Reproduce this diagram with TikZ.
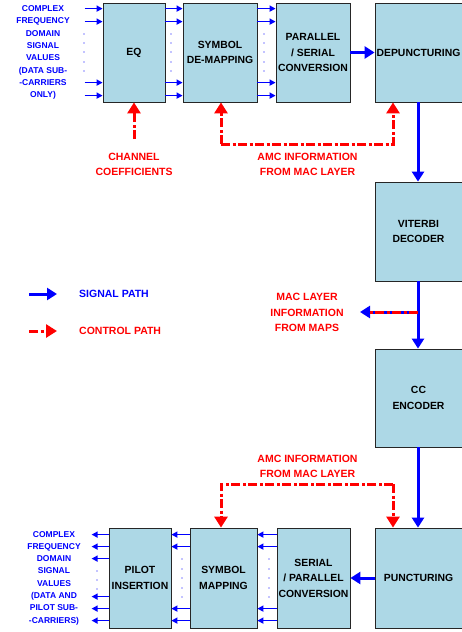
\documentclass[tikz,border=0pt]{standalone}
\usepackage{fontspec}
\setmainfont{Liberation Sans}
\usetikzlibrary{arrows.meta,calc}
\definecolor{boxblue}{RGB}{173,216,230}
\begin{document}
\begin{tikzpicture}[x=1pt,y=-1pt,
  blk/.style={draw=black!85, line width=0.8pt, fill=boxblue, align=center, inner sep=0pt,
    font=\bfseries\fontsize{10.4}{15.5}\selectfont},
  sig/.style={draw=blue, line width=1.5pt, -{Triangle[length=6pt,width=6pt]}},
  bigsig/.style={draw=blue, line width=3pt, -{Triangle[length=10pt,width=12pt]}},
  ctlpat/.style={draw=red, line width=3pt, dash pattern=on 9pt off 2.5pt on 3pt off 2.5pt},
  ctl/.style={ctlpat, -{Triangle[length=11pt,width=13pt]}},
  redlbl/.style={text=red, align=center, inner sep=0pt, font=\bfseries\fontsize{10.5}{15}\selectfont},
  bluelbl/.style={text=blue, align=center, inner sep=0pt, font=\bfseries\fontsize{8.5}{12.3}\selectfont},
  leglbl/.style={anchor=west, inner sep=0pt, font=\bfseries\fontsize{10.5}{12}\selectfont},
  dot/.style={fill=blue}
]
\useasboundingbox (0,0) rectangle (461,632);

% ---- top row ----
\node[blk, minimum width=62pt, minimum height=99pt] (eq) at (134,52.5) {EQ};
\node[blk, minimum width=74pt, minimum height=99pt] (sdm) at (220,52.5) {SYMBOL\\DE-MAPPING};
\node[blk, minimum width=74pt, minimum height=99pt] (ps) at (313,52.5) {PARALLEL\\/ SERIAL\\CONVERSION};
\node[blk, minimum width=87pt, minimum height=99pt] (dep) at (418.5,52.5) {DEPUNCTURING};
% ---- right column ----
\node[blk, minimum width=87pt, minimum height=99pt] (vit) at (418.5,231.5) {VITERBI\\DECODER};
\node[blk, minimum width=87pt, minimum height=98pt] (cc) at (418.5,398) {CC\\ENCODER};
\node[blk, minimum width=87pt, minimum height=100pt] (pun) at (418.5,578) {PUNCTURING};
% ---- bottom row ----
\node[blk, minimum width=73pt, minimum height=100pt] (sp) at (313.5,578) {SERIAL\\/ PARALLEL\\CONVERSION};
\node[blk, minimum width=67pt, minimum height=100pt] (sm) at (223.5,578) {SYMBOL\\MAPPING};
\node[blk, minimum width=62pt, minimum height=100pt] (pil) at (140,578) {PILOT\\INSERTION};

% ---- labels ----
\node[bluelbl] (inlbl) at (43,52.5) {COMPLEX\\FREQUENCY\\DOMAIN\\SIGNAL\\VALUES\\(DATA SUB-\\-CARRIERS\\ONLY)};
\node[bluelbl] (outlbl) at (54,578) {COMPLEX\\FREQUENCY\\DOMAIN\\SIGNAL\\VALUES\\(DATA AND\\PILOT SUB-\\-CARRIERS)};
\node[redlbl] (chlbl) at (134,164.5) {CHANNEL\\COEFFICIENTS};
\node[redlbl] (amc1) at (307.5,164.5) {AMC INFORMATION\\FROM MAC LAYER};
\node[redlbl] (amc2) at (307.5,466.5) {AMC INFORMATION\\FROM MAC LAYER};
\node[redlbl, font=\bfseries\fontsize{10.5}{15.5}\selectfont] (maclbl) at (307,312.5) {MAC LAYER\\INFORMATION\\FROM MAPS};

% ---- top small arrows ----
\foreach \d in {6,19,80,93}{
  \path ([yshift=-\d]eq.north west) coordinate (a);
  \draw[sig] ([xshift=-18]a) -- (a);
  \path ([yshift=-\d]eq.north east) coordinate (b);
  \draw[sig] (b) -- (b -| sdm.west);
  \path ([yshift=-\d]sdm.north east) coordinate (c);
  \draw[sig] (c) -- (c -| ps.west);
}
\foreach \y in {34,43,52,62,71}{
  \fill[dot] (84,\y) circle (0.55pt);
  \fill[dot] (171,\y) circle (0.55pt);
  \fill[dot] (264,\y) circle (0.55pt);
}
\draw[bigsig] (ps.east) -- (dep.west);

% ---- bottom small arrows ----
\foreach \d in {7,19,81,93}{
  \path ([yshift=-\d]sp.north west) coordinate (a);
  \draw[sig] (a) -- (a -| sm.east);
  \path ([yshift=-\d]sm.north west) coordinate (b);
  \draw[sig] (b) -- (b -| pil.east);
}
\foreach \d in {7,19,31,69,81,93}{
  \path ([yshift=-\d]pil.north west) coordinate (c);
  \draw[sig] (c) -- ([xshift=-17]c);
}
\foreach \y in {559,569,578,588,597}{
  \fill[dot] (182,\y) circle (0.55pt);
  \fill[dot] (269,\y) circle (0.55pt);
}
\foreach \y in {571,580,589}{
  \fill[dot] (97,\y) circle (0.55pt);
}
\draw[bigsig] (pun.west) -- (sp.east);

% ---- vertical signal path ----
\draw[bigsig] (dep.south -| 418,0) -- (vit.north -| 418,0);
\draw[bigsig] (vit.south -| 418,0) -- (cc.north -| 418,0);
\draw[bigsig] (cc.south -| 418,0) -- (pun.north -| 418,0);

% ---- MAC branch ----
\coordinate (macsplit) at (418,312);
\coordinate (macend) at (360,312);
\draw[bigsig] (macsplit) -- (macend);
\draw[ctlpat] (macsplit) -- (369,312);

% ---- control paths ----
\coordinate (chst) at (134,139);
\draw[ctl] (chst) -- (eq.south);
\coordinate (amcA) at (221,144);
\coordinate (amcB) at (393,144);
\draw[ctl] (amcA) -- (amcB) -- (dep.south -| amcB);
\draw[ctl] (amcA) -- (sdm.south -| amcA);
\coordinate (amcC) at (221,484);
\coordinate (amcD) at (393,484);
\draw[ctl] (amcD) -- (amcC) -- (sm.north -| amcC);
\draw[ctl] (amcD) -- (pun.north -| amcD);

% ---- legend ----
\coordinate (l1a) at (29,294);
\coordinate (l1b) at (57,294);
\coordinate (l2a) at (29,331);
\coordinate (l2b) at (57,331);
\draw[bigsig] (l1a) -- (l1b);
\draw[ctl] (l2a) -- (l2b);
\node[leglbl, text=blue] (lsig) at (79,294) {SIGNAL PATH};
\node[leglbl, text=red] (lctl) at (79,331) {CONTROL PATH};
\end{tikzpicture}
\end{document}
